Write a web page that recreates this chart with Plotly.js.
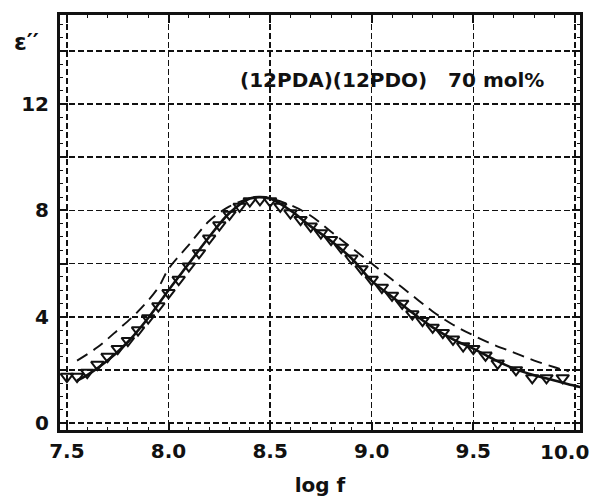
<!DOCTYPE html>
<html>
<head>
<meta charset="utf-8">
<script src="https://cdn.plot.ly/plotly-3.0.1.min.js"></script>
<style>html,body{margin:0;padding:0;background:#fff;}#chart{width:595px;height:500px;}</style>
</head>
<body>
<div id="chart"></div>
<script>
// measured points (open down-triangles)
const dataX = [7.50,7.55,7.60,7.65,7.70,7.75,7.80,7.85,7.90,7.95,8.00,8.05,8.10,8.15,8.20,8.25,8.30,8.35,8.40,8.45,8.50,8.55,8.60,8.65,8.70,8.75,8.80,8.85,8.90,8.95,9.00,9.05,9.10,9.15,9.20,9.25,9.30,9.35,9.40,9.45,9.50,9.56,9.62,9.71,9.79,9.86,9.94];
const dataY = [1.75,1.75,1.9,2.2,2.5,2.8,3.1,3.5,3.95,4.4,4.9,5.4,5.9,6.4,6.95,7.45,7.85,8.15,8.35,8.4,8.35,8.15,7.9,7.65,7.4,7.15,6.9,6.6,6.2,5.8,5.4,5.1,4.8,4.5,4.1,3.85,3.6,3.4,3.15,2.9,2.8,2.55,2.25,2.0,1.7,1.7,1.7];
// solid fit curve
const fitX = [7.55,7.60,7.70,7.80,7.90,8.00,8.10,8.20,8.30,8.40,8.45,8.50,8.60,8.70,8.80,8.90,9.00,9.10,9.20,9.30,9.40,9.50,9.60,9.70,9.80,9.90,10.00,10.03];
const fitY = [1.6,1.8,2.35,3.05,3.95,5.0,6.0,7.0,7.9,8.45,8.5,8.45,8.0,7.4,6.85,6.2,5.35,4.75,4.15,3.6,3.15,2.8,2.4,2.05,1.8,1.6,1.4,1.35];
// dashed curve
const dashX = [7.55,7.65,7.75,7.85,7.95,8.00,8.10,8.20,8.30,8.40,8.45,8.50,8.60,8.70,8.80,8.90,9.00,9.10,9.20,9.30,9.40,9.50,9.60,9.70,9.80,9.90,9.97];
const dashY = [2.35,2.85,3.5,4.2,5.1,5.8,6.7,7.6,8.15,8.45,8.5,8.45,8.2,7.8,7.2,6.6,6.0,5.4,4.8,4.2,3.7,3.3,2.95,2.65,2.35,2.1,1.95];
// ticks
const xTickVals = [7.5,8.0,8.5,9.0,9.5,10.0];
const xTickText = ['7.5','8.0','8.5','9.0','9.5',''];
const xLastTickLabel = '10.0';   // drawn right-aligned at the page edge, as in the original
const yTickVals = [0,2,4,6,8,10,12,14];
const yTickText = ['0','','4','','8','','12',''];

const FONT = 'DejaVu Sans, sans-serif';
const traces = [
  {x: dashX, y: dashY, mode: 'lines', type: 'scatter', line: {color: '#111', width: 1.9, dash: '12px,7px', shape: 'spline'}, hoverinfo: 'skip'},
  {x: fitX, y: fitY, mode: 'lines', type: 'scatter', line: {color: '#111', width: 2.6, shape: 'spline'}, hoverinfo: 'skip'},
  {x: dataX, y: dataY, mode: 'markers', type: 'scatter', marker: {symbol: 'triangle-down-open', size: 11, color: '#111', line: {width: 2, color: '#111'}}}
];

const axisCommon = {
  showline: true, linecolor: '#111', linewidth: 3, mirror: 'ticks',
  ticks: 'inside', ticklen: 8, tickwidth: 2, tickcolor: '#111',
  showgrid: true, gridcolor: '#111', gridwidth: 1.5, griddash: '6px,3px',
  zeroline: false,
  tickfont: {family: FONT, size: 20, color: '#111', weight: 'bold'}
};

const layout = {
  width: 595, height: 500,
  margin: {l: 60, r: 15, t: 15, b: 70},
  paper_bgcolor: '#fff', plot_bgcolor: '#fff',
  showlegend: false,
  xaxis: Object.assign({}, axisCommon, {
    range: [7.466, 10.025], tickmode: 'array', tickvals: xTickVals, ticktext: xTickText,
    ticklabelstandoff: 1,
    minor: {ticks: 'inside', ticklen: 3, tickwidth: 1, tickcolor: '#111', dtick: 0.1, showgrid: false},
    title: {text: 'log f', font: {family: FONT, size: 20, color: '#111', weight: 'bold'}, standoff: 16}
  }),
  yaxis: Object.assign({}, axisCommon, {
    range: [-0.26, 15.35], tickmode: 'array', tickvals: yTickVals, ticktext: yTickText,
    ticklabelstandoff: 4,
    minor: {ticks: 'inside', ticklen: 3, tickwidth: 1, tickcolor: '#111', dtick: 0.5, showgrid: false}
  }),
  annotations: [
    {x: 8.342, y: 12.9, xref: 'x', yref: 'y', xanchor: 'left', yanchor: 'middle', showarrow: false,
     text: '(12PDA)(12PDO)\u00a0\u00a0\u00a070 mol%', font: {family: FONT, size: 20, color: '#111', weight: 'bold'}},
    {x: -0.092, y: 0.935, xref: 'paper', yref: 'paper', xanchor: 'left', yanchor: 'middle', showarrow: false,
     text: 'ε\u2032\u2032', font: {family: FONT, size: 23, color: '#111', weight: 'bold'}},
    {x: 1.021, y: -0.052, xref: 'paper', yref: 'paper', xanchor: 'right', yanchor: 'middle', showarrow: false,
     text: xLastTickLabel, font: {family: FONT, size: 20, color: '#111', weight: 'bold'}}
  ]
};

Plotly.newPlot('chart', traces, layout, {staticPlot: true, displayModeBar: false});
</script>
</body>
</html>
